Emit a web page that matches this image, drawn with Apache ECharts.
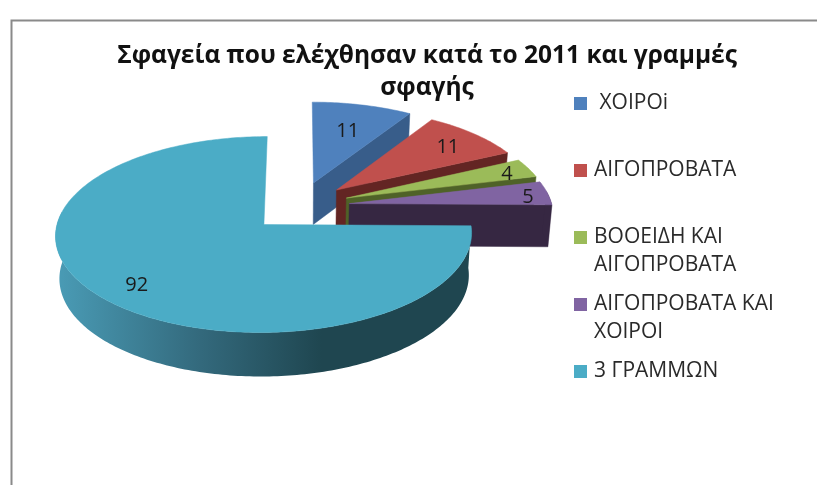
<!DOCTYPE html>
<html><head><meta charset="utf-8">
<style>html,body{margin:0;padding:0;background:#fff}#c{width:817px;height:485px}</style>
<script src="https://cdn.jsdelivr.net/npm/echarts@6/dist/echarts.min.js"></script>
</head><body><div id="c"></div>
<script>
// ---- data ----
const titleText = "Σφαγεία που ελέχθησαν κατά το 2011 και γραμμές\nσφαγής";
const categories = [" ΧΟΙΡΟi", "ΑΙΓΟΠΡΟΒΑΤΑ", "ΒΟΟΕΙΔΗ ΚΑΙ ΑΙΓΟΠΡΟΒΑΤΑ", "ΑΙΓΟΠΡΟΒΑΤΑ ΚΑΙ ΧΟΙΡΟΙ", "3 ΓΡΑΜΜΩΝ"];
const legendLines = [[" ΧΟΙΡΟi"], ["ΑΙΓΟΠΡΟΒΑΤΑ"], ["ΒΟΟΕΙΔΗ ΚΑΙ", "ΑΙΓΟΠΡΟΒΑΤΑ"], ["ΑΙΓΟΠΡΟΒΑΤΑ ΚΑΙ", "ΧΟΙΡΟΙ"], ["3 ΓΡΑΜΜΩΝ"]];
const values = [11, 11, 4, 5, 92];

// ---- style / layout ----
const FONT = '"Open Sans","Noto Sans",sans-serif';
const topColors = ["#4F81BD", "#C0504D", "#9BBB59", "#8064A2", "#4BACC6"];
const sideColors = ["#385D8A", "#632523", "#4F6228", "#362742", "#1F4650"];
const labelReach = [0.68, 0.8, 0.88, 0.9, 0.8];
const labelDrop = 3;
const legendCenters = [103.5, 170.5, 237.5, 304.5, 371.5];
const view = {hubX: 300, hubY: 206.5, B: 203, A: 93.3, k: 0.1, ex: 0.245, ey: 0.27, depth: 42, shrink: 0.984};
const total = values.reduce((a, b) => a + b, 0);
const RAD = Math.PI / 180;

function project(wx, wy, lower) {
  const s = 1 / (1 + view.k * wy);
  let X = view.hubX + view.B * wx * s;
  let Y = view.hubY - view.A * wy * s;
  if (lower) {
    X = view.hubX + (X - view.hubX) * view.shrink;
    Y += view.depth * (1 - 0.04 * wy);
  }
  return [X, Y];
}
function sliceRange(i) {
  let a = 0;
  for (let j = 0; j < i; j++) a += values[j] / total * 360;
  return [a, a + values[i] / total * 360];
}
function renderSlice(i) {
  return function (params, api) {
    const [a0, a1] = sliceRange(i);
    const mid = (a0 + a1) / 2 * RAD;
    const ax = Math.sin(mid) * view.ex, ay = Math.cos(mid) * view.ey;
    const rim = (deg, lower) => project(ax + Math.sin(deg * RAD), ay + Math.cos(deg * RAD), lower);
    const apex = lower => project(ax, ay, lower);
    const kids = [];
    const poly = (points, fill) => kids.push({type: 'polygon', shape: {points}, style: {fill, stroke: fill, lineWidth: 0.5}});
    // visible cut faces
    if (Math.sin(a1 * RAD) > 0.01) poly([apex(false), rim(a1, false), rim(a1, true), apex(true)], sideColors[i]);
    if (Math.sin(a0 * RAD) < -0.01) poly([apex(false), rim(a0, false), rim(a0, true), apex(true)], sideColors[i]);
    // outer wall
    const w0 = Math.max(a0, 82), w1 = Math.min(a1, 278);
    if (w1 > w0) {
      const up = [], dn = [];
      for (let d = w0; d <= w1; d += 1) { up.push(rim(d, false)); dn.unshift(rim(d, true)); }
      const fill = i === 4 ? {type: 'linear', x: 1, y: 0, x2: 0, y2: 0, colorStops: [
        {offset: 0, color: sideColors[i]}, {offset: 0.36, color: sideColors[i]},
        {offset: 0.65, color: '#33697C'}, {offset: 1, color: '#4A9CB6'}]} : sideColors[i];
      kids.push({type: 'polygon', shape: {points: up.concat(dn)}, style: {fill}});
    }
    // top surface
    const pts = [apex(false)];
    for (let d = a0; d < a1; d += 1) pts.push(rim(d, false));
    pts.push(rim(a1, false));
    poly(pts, topColors[i]);
    // value label
    const m = (a0 + a1) / 2, r = labelReach[i];
    const lp = project(ax + Math.sin(m * RAD) * r, ay + Math.cos(m * RAD) * r, false);
    kids.push({type: 'text', x: lp[0], y: lp[1] + labelDrop, style: {
      text: String(api.value(0)), font: '20px ' + FONT, fill: '#1a1a1a', align: 'center', verticalAlign: 'middle'}});
    return {type: 'group', children: kids};
  };
}

const chart = echarts.init(document.getElementById('c'), null, {renderer: 'canvas'});
chart.setOption({
  animation: false,
  backgroundColor: '#ffffff',
  title: {
    text: titleText, left: 422, top: 35, textAlign: 'center',
    textStyle: {fontFamily: FONT, fontSize: 24.5, fontWeight: 'bold', color: '#111', lineHeight: 32}
  },
  legend: categories.map((name, i) => {
    const lines = legendLines[i];
    const n = lines.length === 1 ? 1 : 3;
    return {
      data: [name], orient: 'vertical', left: 574, top: legendCenters[i] - n * 14, padding: 0,
      selectedMode: false, icon: 'rect', itemWidth: 13, itemHeight: 13,
      formatter: () => (lines.length === 1 ? lines[0] : '\n' + lines.join('\n')),
      textStyle: {fontFamily: FONT, fontSize: 21, color: '#2a2a2a', lineHeight: 28, padding: [0, 0, 0, 2]}
    };
  }),
  graphic: [
    {type: 'polyline', shape: {points: [[11.5, 485], [11.5, 20.5], [817, 20.5]]}, style: {stroke: '#8a8a8a', lineWidth: 2, fill: null}, silent: true}
  ],
  series: categories.map((name, i) => ({
    type: 'custom', name, coordinateSystem: 'none',
    itemStyle: {color: topColors[i]},
    data: [[values[i]]],
    renderItem: renderSlice(i)
  }))
});
</script></body></html>
